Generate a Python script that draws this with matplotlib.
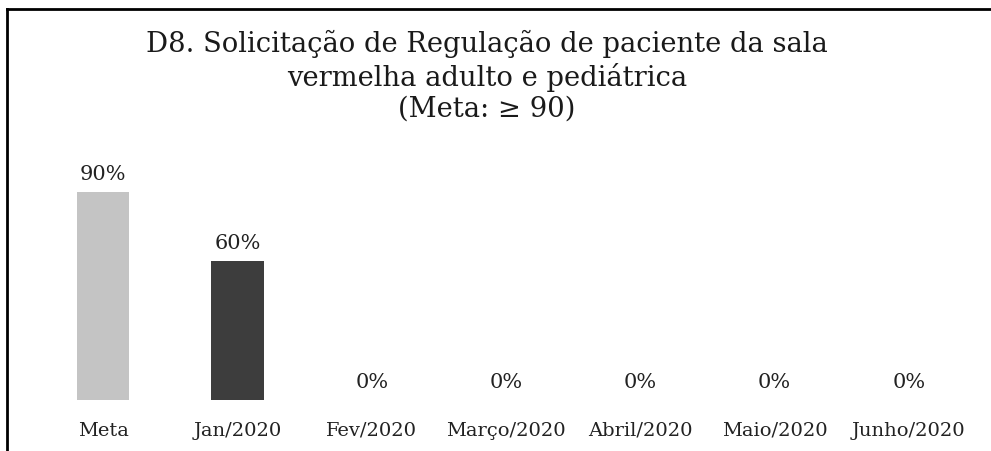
from matplotlib import pyplot as plt
from matplotlib.lines import Line2D

categorias = ['Meta', 'Jan/2020', 'Fev/2020', 'Março/2020', 'Abril/2020', 'Maio/2020', 'Junho/2020']
valores = [0.90, 0.60, 0, 0, 0, 0, 0]
rotulos = ['90%', '60%', '0%', '0%', '0%', '0%', '0%']
cores = ['#c4c4c4', '#3d3d3d', '#c4c4c4', '#c4c4c4', '#c4c4c4', '#c4c4c4', '#c4c4c4']

plt.rcParams['font.family'] = ['DejaVu Serif']

fig = plt.figure(figsize=(9.91, 4.52), dpi=100)
ax = fig.add_axes([36/991, 51/452, 940/991, 231/452])

x = range(len(categorias))
ax.bar(x, valores, width=0.39, color=cores)
for i, (v, r) in enumerate(zip(valores, rotulos)):
    ax.annotate(r, (i, v), xytext=(0, 9), textcoords='offset pixels',
                ha='center', va='bottom', fontsize=15, color='#222222')

ax.set_xlim(-0.5, len(categorias) - 0.5)
ax.set_ylim(0, 1)
ax.set_xticks(list(x))
ax.set_xticklabels(categorias, fontsize=14, color='#222222')
ax.tick_params(axis='x', length=0, pad=15)
ax.set_yticks([])
for s in ax.spines.values():
    s.set_visible(False)

# titulo em tres linhas
fig.text(487/991, 1 - 30/452,
         'D8. Solicitação de Regulação de paciente da sala\nvermelha adulto e pediátrica\n(Meta: ≥ 90)',
         ha='center', va='top', fontsize=19.7, linespacing=1.2, color='#1a1a1a')

# moldura (borda esquerda e superior)
fig.add_artist(Line2D([7/991, 7/991], [0, 1 - 10/452], color='black', lw=2))
fig.add_artist(Line2D([7/991, 1], [1 - 10/452, 1 - 10/452], color='black', lw=2))

plt.savefig('out.png', dpi=100)
